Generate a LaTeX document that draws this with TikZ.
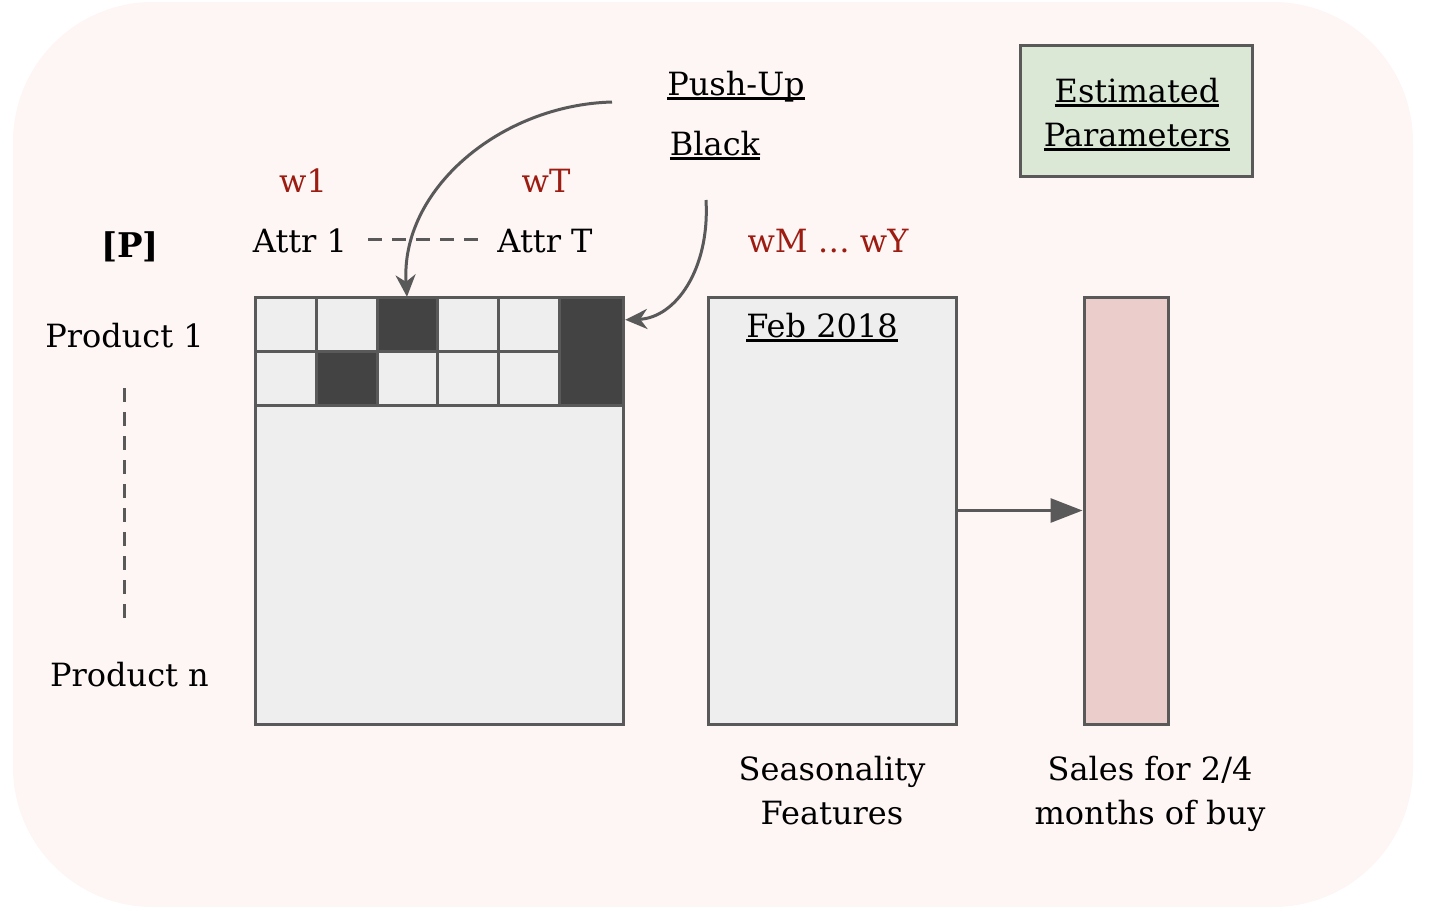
\documentclass[tikz,border=0pt]{standalone}
\usepackage{fontspec}
\setmainfont{DejaVu Serif}
\usetikzlibrary{arrows.meta,calc}
\definecolor{bgpink}{HTML}{FEF5F5}
\definecolor{cellgray}{HTML}{EEEEEE}
\definecolor{celldark}{HTML}{434343}
\definecolor{linegray}{HTML}{595959}
\definecolor{wred}{HTML}{9C1C12}
\definecolor{salespink}{HTML}{EBCDCC}
\definecolor{paramgreen}{HTML}{DAE8D5}
\newcommand\myul[1]{\sbox0{#1}\rlap{\rule[-4.5pt]{\wd0}{2.4pt}}\usebox0}
\tikzset{
  txt/.style={font=\fontsize{32}{44}\selectfont, inner sep=0pt, anchor=base},
  wtxt/.style={txt, text=wred},
  gridline/.style={draw=linegray, line width=3pt},
  boxstyle/.style={draw=linegray, line width=3pt, inner sep=0pt},
  curvedarrow/.style={draw=linegray, line width=3pt, -{Stealth[length=22pt,width=20pt,inset=7pt]}},
  flatarrow/.style={draw=linegray, line width=3pt, -{Triangle[length=32pt,width=24pt]}},
  dashline/.style={draw=linegray, line width=3pt, dash pattern=on 14pt off 10pt}
}
\begin{document}
\begin{tikzpicture}[x=1pt,y=-1pt]
\useasboundingbox (0,0) rectangle (1438,922);
\fill[bgpink, rounded corners=140pt] (13,2) rectangle (1413,907);

% matrix
\fill[cellgray] (255,297) rectangle (623,724);
\node[fill=celldark, inner sep=0pt, minimum width=60pt, minimum height=54pt] (cA) at (407,324) {};
\node[fill=celldark, inner sep=0pt, minimum width=61pt, minimum height=54pt] (cC) at (346.5,378) {};
\node[fill=celldark, inner sep=0pt, minimum width=64pt, minimum height=108pt] (cB) at (591,351) {};
\draw[gridline] (255,351) -- (559,351);
\draw[gridline] (255,405) -- (623,405);
\foreach \xx in {316,377,437,498,559} \draw[gridline] (\xx,297) -- (\xx,405);
\draw[gridline] (255,297) rectangle (623,724);

% seasonality & sales
\node[boxstyle, fill=cellgray, minimum width=248pt, minimum height=427pt] (seas) at (832,510.5) {};
\node[boxstyle, fill=salespink, minimum width=84pt, minimum height=427pt] (sales) at (1126,510.5) {};
\draw[flatarrow] (seas.east) -- (sales.west);

% estimated parameters
\node[boxstyle, fill=paramgreen, minimum width=232pt, minimum height=131pt] (params) at (1136,110.5) {};
\node[txt] (est1) at (1137,102) {\myul{Estimated}};
\node[txt] (est2) at (1137,146) {\myul{Parameters}};

% texts
\node[txt] (push) at (736,95) {\myul{Push-Up}};
\node[txt] (black) at (715,155) {\myul{Black}};
\node[wtxt] (w1) at (303,192) {w1};
\node[wtxt] (wT) at (546,192) {wT};
\node[wtxt] (wMY) at (828,252) {wM … wY};
\node[txt, font=\fontsize{34}{44}\selectfont\bfseries] (P) at (130,257) {[P]};
\node[txt] (attr1) at (300,252) {Attr 1};
\node[txt] (attrT) at (545,252) {Attr T};
\draw[dashline] (368,239) -- (480,239);
\node[txt] (prod1) at (124.5,347) {Product 1};
\node[txt] (prodn) at (129.5,686) {Product n};
\draw[dashline] (124,388) -- (124,620);
\node[txt] (feb) at (822,337) {\myul{Feb 2018}};
\node[txt] (seas1) at (832,780) {Seasonality};
\node[txt] (seas2) at (832,824) {Features};
\node[txt] (sales1) at (1150,780) {Sales for 2/4};
\node[txt] (sales2) at (1150,824) {months of buy};

% curved arrows
\coordinate (pushstart) at (612,102);
\coordinate (blackstart) at (706,200);
\draw[curvedarrow] (pushstart) .. controls (500,105) and (400,190) .. (cA.north);
\draw[curvedarrow] (blackstart) .. controls (710,270) and (675,318) .. ($(cB.north east)+(2,23)$);
\end{tikzpicture}
\end{document}
